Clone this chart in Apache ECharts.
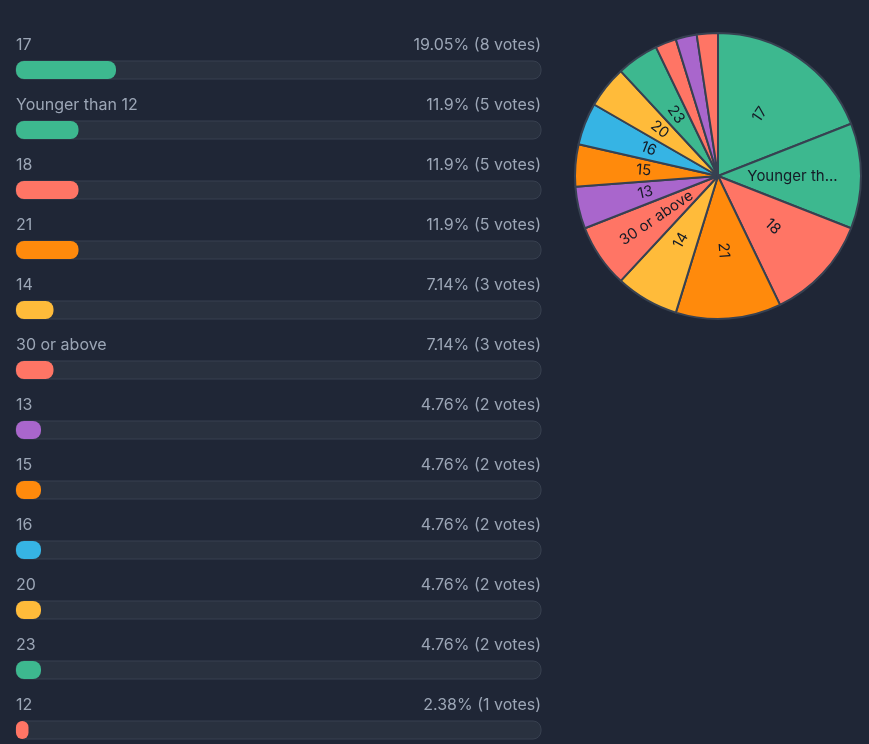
<!DOCTYPE html>
<html lang="en" style="height: 100%">
<head>
  <meta charset="UTF-8">
  <title>Age poll</title>
  <script src="https://cdn.jsdelivr.net/npm/echarts@6/dist/echarts.min.js"></script>
</head>
<body style="height: 100%; margin: 0; background-color: #1f2636;">
  <div id="main" style="width: 869px; height: 744px;"></div>

  <script>
  // poll answers, in the order the list shows them (last two are below the fold)
  const answers = ['17', 'Younger than 12', '18', '21', '14', '30 or above', '13', '15', '16', '20', '23', '12', '19', '22'];
  const votes = [8, 5, 5, 5, 3, 3, 2, 2, 2, 2, 2, 1, 1, 1];
  const colors = ['#3db88f', '#3db88f', '#ff7565', '#ff8a0c', '#ffbb3a', '#ff7565', '#a966cc', '#ff8a0c', '#36b4e4', '#ffbb3a', '#3db88f', '#ff7565', '#a966cc', '#ff7565'];

  const totalVotes = votes.reduce((a, b) => a + b, 0);

  function pctText(i) {
    const p = Math.round(votes[i] / totalVotes * 10000) / 100;
    return p + '% (' + votes[i] + ' votes)';
  }

  const chart = echarts.init(document.getElementById('main'));
  const textFont = 'Inter, "Noto Sans", sans-serif';

  const option = {
    backgroundColor: '#1f2636',
    animation: false,
    grid: {
      left: 16,
      width: 525,
      top: 40,
      height: answers.length * 60,
      containLabel: false,
      outerBoundsMode: 'none'
    },
    xAxis: {
      type: 'value',
      min: 0,
      max: totalVotes,
      show: false
    },
    yAxis: [
      {
        type: 'category',
        data: answers,
        inverse: true,
        axisLine: { show: false },
        axisTick: { show: false },
        axisLabel: {
          inside: true,
          margin: 0,
          color: '#9ca6b6',
          fontSize: 16,
          fontFamily: textFont,
          verticalAlign: 'bottom',
          padding: [0, 0, 17, 0]
        }
      },
      {
        type: 'category',
        data: answers,
        inverse: true,
        position: 'right',
        axisLine: { show: false },
        axisTick: { show: false },
        axisLabel: {
          inside: true,
          margin: 0,
          color: '#9ca6b6',
          fontSize: 16,
          fontFamily: textFont,
          verticalAlign: 'bottom',
          padding: [0, 0, 17, 0],
          formatter: function (value, index) { return pctText(index); }
        }
      }
    ],
    series: [
      {
        type: 'bar',
        barWidth: 18,
        showBackground: true,
        backgroundStyle: {
          color: '#29313f',
          borderColor: '#384150',
          borderWidth: 1,
          borderRadius: 8
        },
        itemStyle: { borderRadius: 8 },
        data: votes.map((v, i) => ({ value: v, itemStyle: { color: colors[i] } }))
      },
      {
        type: 'pie',
        center: [718, 176],
        radius: 143,
        clockwise: true,
        startAngle: 90,
        minShowLabelAngle: 10,
        itemStyle: {
          borderColor: '#374151',
          borderWidth: 2
        },
        label: {
          position: 'inside',
          rotate: 'radial',
          color: '#151b26',
          fontSize: 15,
          fontFamily: textFont,
          width: 98,
          overflow: 'truncate'
        },
        labelLine: { show: false },
        data: answers.map((name, i) => ({ name: name, value: votes[i], itemStyle: { color: colors[i] } }))
      }
    ]
  };

  chart.setOption(option);
  </script>
</body>
</html>
